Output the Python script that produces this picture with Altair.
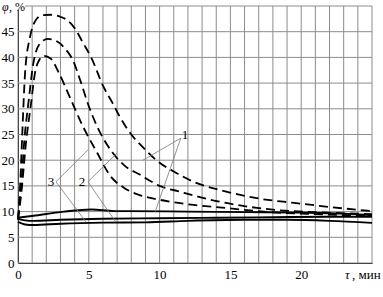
import altair as alt
import pandas as pd

# ---- data ----
t_d1 = [0, 0.15, 0.3, 0.5, 0.85, 1.2, 1.7, 2.3, 3.0, 3.5, 4.0, 4.6, 5.2, 6.0, 6.7, 7.2, 8.0, 8.8, 10, 11, 12.4, 14.7, 17.1, 19.5, 22, 25]
p_d1 = [8.5, 15, 25, 37, 44, 47, 48.2, 48.3, 47.9, 47.2, 45.7, 42.8, 39.8, 34.5, 31, 28.4, 25, 22.6, 19.5, 17.8, 15.8, 13.9, 12.5, 11.7, 10.9, 10.1]

t_d2 = [0, 0.2, 0.45, 0.73, 1.08, 1.5, 2.1, 2.7, 3.3, 3.9, 4.4, 5.0, 5.6, 6.7, 7.5, 8.6, 10, 11.4, 13.6, 15.9, 18.3, 21, 25]
p_d2 = [8.5, 14, 24, 31, 38.8, 42.5, 43.6, 43.2, 41.8, 39.3, 35.5, 30.5, 26.5, 21.4, 19, 17.2, 15.0, 13.9, 12.3, 11.1, 10.3, 9.9, 9.5]

t_d3 = [0, 0.25, 0.55, 0.92, 1.2, 1.5, 1.8, 2.3, 2.85, 3.7, 4.6, 5.6, 6.5, 7.5, 8.5, 10, 12.4, 14.7, 17.8, 21, 25]
p_d3 = [8.5, 14, 23, 31, 37, 39.5, 40.3, 39.8, 37.2, 32, 26.5, 21.4, 17, 14.6, 13.3, 12.3, 11.3, 10.7, 9.9, 9.5, 9.2]

t_s1 = [0, 1.1, 3.25, 5.2, 6.8, 8, 12, 16, 20, 23, 25]
p_s1 = [8.8, 9.2, 10.0, 10.4, 10.1, 10.1, 10.0, 9.9, 9.8, 9.6, 9.3]

t_s2 = [0, 0.5, 1.1, 3, 6, 10, 14, 18, 22, 25]
p_s2 = [8.6, 8.3, 8.2, 8.4, 8.6, 8.7, 8.8, 8.9, 9.0, 9.0]

t_s3 = [0, 0.5, 1.1, 3, 6, 9, 12, 16, 19, 22, 25]
p_s3 = [8.0, 7.5, 7.4, 7.65, 7.85, 7.9, 8.2, 8.4, 8.4, 8.2, 7.8]

curve_labels = ["1", "2", "3"]
label_t = [11.8, 4.52, 2.33]
label_phi = [24.9, 15.7, 15.7]

lead_t = [11.5, 11.5, 4.94, 4.94, 2.68, 2.68]
lead_phi = [24.3, 24.3, 15.8, 15.8, 15.8, 15.8]
lead_t2 = [8.83, 9.68, 7.0, 6.9, 4.94, 4.8]
lead_phi2 = [20.0, 9.9, 21.4, 8.0, 22.0, 8.0]

x_grid = list(range(26))
y_grid = list(range(0, 55, 5))
x_ticks = [0, 5, 10, 15, 20]
y_ticks = [0, 5, 10, 15, 20, 25, 30, 35, 40, 45]

# ---- tables ----
def long(name, ts, ps):
    return pd.DataFrame({"t": ts, "phi": ps, "curve": name})

dashed = pd.concat([long("d1", t_d1, p_d1), long("d2", t_d2, p_d2), long("d3", t_d3, p_d3)])
solid = pd.concat([long("s1", t_s1, p_s1), long("s2", t_s2, p_s2), long("s3", t_s3, p_s3)])
labels = pd.DataFrame({"t": label_t, "phi": label_phi, "txt": curve_labels})
leaders = pd.DataFrame({"t": lead_t, "phi": lead_phi, "t2": lead_t2, "phi2": lead_phi2})
xg = pd.DataFrame({"t": x_grid})
yg = pd.DataFrame({"phi": y_grid})
one = pd.DataFrame({"a": [0]})

FONT = "Liberation Serif, Times New Roman, Times, serif"
GRID = "#8c8c8c"

xs = alt.Scale(domain=[0, 25], nice=False, zero=False)
ys = alt.Scale(domain=[0, 50], nice=False)

X = alt.X("t:Q", scale=xs,
          axis=alt.Axis(values=x_ticks, title=None, ticks=False, grid=False,
                        domainColor="black", domainWidth=1,
                        labelFont=FONT, labelFontSize=13, labelColor="black",
                        labelPadding=5, labelFlush=False))
Y = alt.Y("phi:Q", scale=ys,
          axis=alt.Axis(values=y_ticks, title=None, ticks=False, grid=False,
                        domainColor="black", domainWidth=1,
                        labelFont=FONT, labelFontSize=13, labelColor="black",
                        labelPadding=4))

vgrid = alt.Chart(xg).mark_rule(color=GRID, strokeWidth=1).encode(
    x=X, y=alt.value(0), y2=alt.value(257))
hgrid = alt.Chart(yg).mark_rule(color=GRID, strokeWidth=1).encode(
    y=Y, x=alt.value(0), x2=alt.value(354))

dash_layer = alt.Chart(dashed).mark_line(color="black", strokeWidth=1.8,
                                         strokeDash=[9, 5], interpolate="monotone").encode(
    x=X, y=Y, detail="curve:N")
solid_layer = alt.Chart(solid).mark_line(color="black", strokeWidth=1.9,
                                         interpolate="monotone").encode(
    x=X, y=Y, detail="curve:N")
lead_layer = alt.Chart(leaders).mark_rule(color="#777777", strokeWidth=0.8).encode(
    x=X, y=Y, x2="t2:Q", y2="phi2:Q")
label_layer = alt.Chart(labels).mark_text(font=FONT, fontSize=13, color="black",
                                          align="center", baseline="middle").encode(
    x=X, y=Y, text="txt:N")

bg = alt.Chart(one).mark_rect(color="white").encode(
    x=alt.value(-18), x2=alt.value(7), y=alt.value(-6), y2=alt.value(4))
phi_t = alt.Chart(one).mark_text(font=FONT, fontSize=12, fontStyle="italic", color="black",
                                 align="left", baseline="alphabetic").encode(
    x=alt.value(-16), y=alt.value(5), text=alt.value("φ"))
phi_u = alt.Chart(one).mark_text(font=FONT, fontSize=12, color="black",
                                 align="left", baseline="alphabetic").encode(
    x=alt.value(-9), y=alt.value(5), text=alt.value(", %"))
tau_t = alt.Chart(one).mark_text(font=FONT, fontSize=13, fontStyle="italic", color="black",
                                 align="left", baseline="alphabetic").encode(
    x=alt.value(327), y=alt.value(273), text=alt.value("τ"))
tau_u = alt.Chart(one).mark_text(font=FONT, fontSize=13, color="black",
                                 align="left", baseline="alphabetic").encode(
    x=alt.value(334), y=alt.value(273), text=alt.value(", мин"))

chart = alt.layer(vgrid, hgrid, dash_layer, solid_layer, lead_layer, label_layer,
                  bg, phi_t, phi_u, tau_t, tau_u).properties(
    width=354, height=257,
    autosize=alt.AutoSizeParams(type="none"),
    padding={"left": 18, "top": 6, "right": 11, "bottom": 34},
    background="white",
).configure_view(stroke=None)

chart.save("out.html", embed_options={"renderer": "svg", "actions": False})
